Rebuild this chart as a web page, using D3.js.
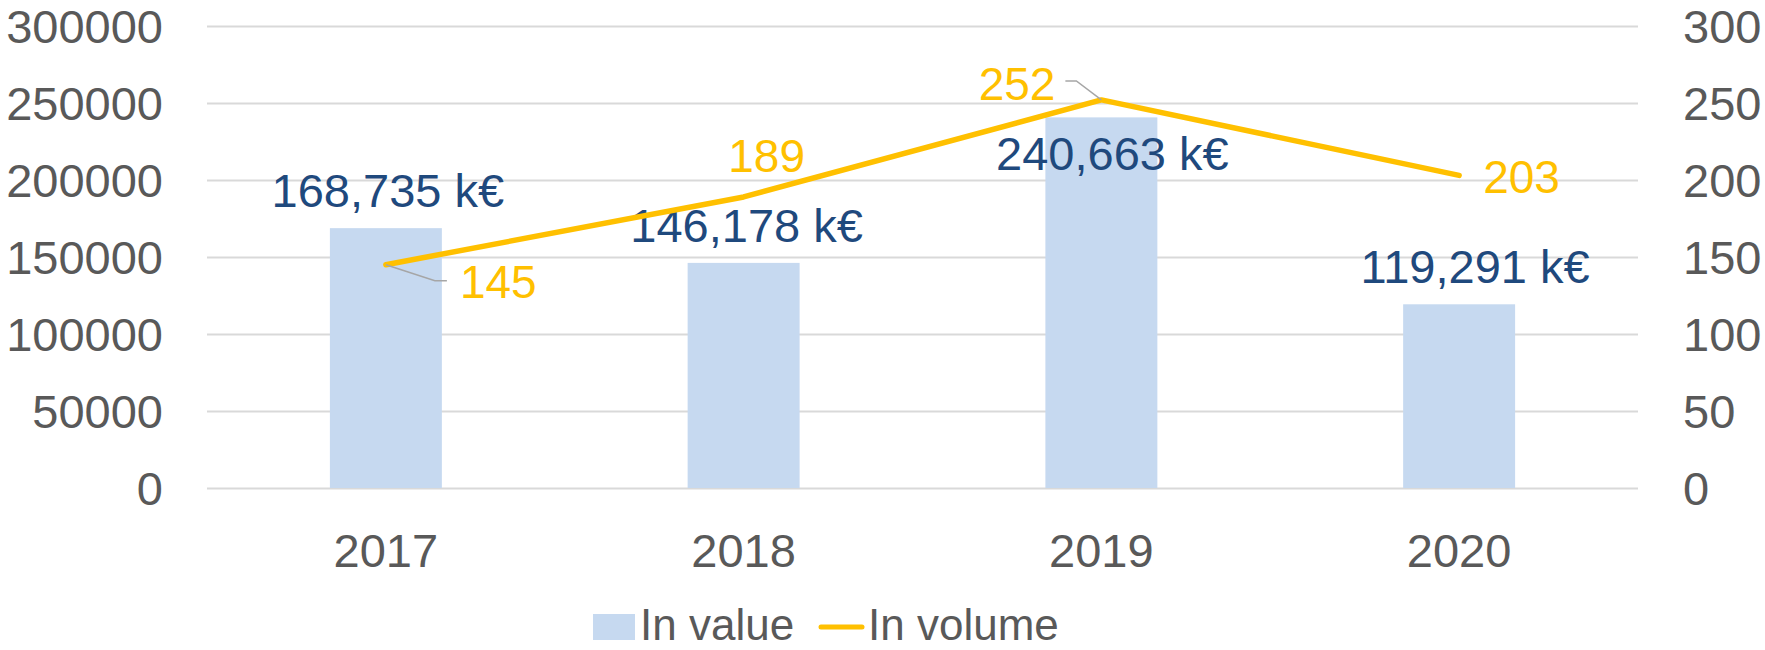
<!DOCTYPE html>
<html>
<head>
<meta charset="utf-8">
<script src="https://cdn.jsdelivr.net/npm/d3@7"></script>
<style>
  body { margin: 0; background: #fff; }
  text { font-family: "Liberation Sans", Arial, sans-serif; }
</style>
</head>
<body>
<div id="chart"></div>
<script>
// data
var years = ["2017", "2018", "2019", "2020"];
var inValue = [168735, 146178, 240663, 119291];
var inVolume = [145, 189, 252, 203];
var leftTicks = [0, 50000, 100000, 150000, 200000, 250000, 300000];
var rightTicks = [0, 50, 100, 150, 200, 250, 300];

// label placement tweaks (pixels, relative to default spot)
var valueLabelShift = [[2, 0], [3, 0], [11, 74], [16, 0]];
var volumeLabelShift = [[74, 33, "start"], [23, -25, "middle"], [-46, 0, "end"], [24, 18, "start"]];

var W = 1765, H = 650;
var plotLeft = 207, plotRight = 1638, plotTop = 26, plotBottom = 488;

var svg = d3.select("#chart")
  .append("svg")
    .attr("width", W)
    .attr("height", H);

var x = d3.scaleBand().domain(years).range([plotLeft, plotRight]).padding(0);
var yL = d3.scaleLinear().domain([0, 300000]).range([plotBottom, plotTop]);
var yR = d3.scaleLinear().domain([0, 300]).range([plotBottom, plotTop]);
var barW = x.bandwidth() * 0.313;

var axisGray = "#595959";
var gridGray = "#D9D9D9";
var barColor = "#C6D9F0";
var lineColor = "#FFC000";
var labelBlue = "#1F497D";

// left axis + gridlines
var gL = svg.append("g")
  .attr("transform", "translate(" + plotLeft + ",0)")
  .call(d3.axisLeft(yL).tickValues(leftTicks).tickFormat(d3.format("d"))
    .tickSizeInner(-(plotRight - plotLeft)).tickSizeOuter(0).tickPadding(44));
gL.select(".domain").remove();
gL.selectAll(".tick line").attr("stroke", gridGray).attr("stroke-width", 2);
gL.selectAll(".tick text").attr("fill", axisGray).style("font-size", "47px").attr("dy", "0.36em");

// right axis
var gR = svg.append("g")
  .attr("transform", "translate(" + plotRight + ",0)")
  .call(d3.axisRight(yR).tickValues(rightTicks).tickFormat(d3.format("d"))
    .tickSize(0).tickPadding(45));
gR.select(".domain").remove();
gR.selectAll(".tick text").attr("fill", axisGray).style("font-size", "47px").attr("dy", "0.36em");

// x axis
var gX = svg.append("g")
  .attr("transform", "translate(0," + plotBottom + ")")
  .call(d3.axisBottom(x).tickSize(0).tickPadding(46));
gX.select(".domain").remove();
gX.selectAll(".tick text").attr("fill", axisGray).style("font-size", "47px");

// bars
svg.selectAll(".bar")
  .data(years)
  .enter()
  .append("rect")
  .attr("class", "bar")
  .attr("x", function(d) { return x(d) + x.bandwidth() / 2 - barW / 2; })
  .attr("y", function(d, i) { return yL(inValue[i]); })
  .attr("width", barW)
  .attr("height", function(d, i) { return plotBottom - yL(inValue[i]); })
  .attr("fill", barColor);

// bar labels
svg.selectAll(".vlabel")
  .data(years)
  .enter()
  .append("text")
  .attr("class", "vlabel")
  .attr("x", function(d, i) { return x(d) + x.bandwidth() / 2 + valueLabelShift[i][0]; })
  .attr("y", function(d, i) { return yL(inValue[i]) - 21 + valueLabelShift[i][1]; })
  .attr("text-anchor", "middle")
  .attr("fill", labelBlue)
  .style("font-size", "47px")
  .text(function(d, i) { return d3.format(",")(inValue[i]) + " k€"; });

// volume line
function px(i) { return x(years[i]) + x.bandwidth() / 2; }

var line = d3.line()
  .x(function(d, i) { return px(i); })
  .y(function(d) { return yR(d); });

svg.append("path")
  .datum(inVolume)
  .attr("d", line)
  .attr("fill", "none")
  .attr("stroke", lineColor)
  .attr("stroke-width", 5.5)
  .attr("stroke-linecap", "round")
  .attr("stroke-linejoin", "round");

// leader lines for 145 and 252
svg.append("polyline")
  .attr("points", [[px(0), yR(inVolume[0])], [px(0) + 49, yR(inVolume[0]) + 16], [px(0) + 61, yR(inVolume[0]) + 16]].join(" "))
  .attr("fill", "none").attr("stroke", "#A6A6A6").attr("stroke-width", 1.5);
svg.append("polyline")
  .attr("points", [[px(2), yR(inVolume[2])], [px(2) - 25, yR(inVolume[2]) - 19], [px(2) - 36, yR(inVolume[2]) - 19]].join(" "))
  .attr("fill", "none").attr("stroke", "#A6A6A6").attr("stroke-width", 1.5);

// volume labels
svg.selectAll(".nlabel")
  .data(inVolume)
  .enter()
  .append("text")
  .attr("class", "nlabel")
  .attr("x", function(d, i) { return px(i) + volumeLabelShift[i][0]; })
  .attr("y", function(d, i) { return yR(d) + volumeLabelShift[i][1]; })
  .attr("text-anchor", function(d, i) { return volumeLabelShift[i][2]; })
  .attr("fill", lineColor)
  .style("font-size", "46px")
  .text(function(d) { return d; });

// legend
var legend = svg.append("g");
legend.append("rect")
  .attr("x", 593).attr("y", 614).attr("width", 42).attr("height", 26)
  .attr("fill", barColor);
legend.append("text")
  .attr("x", 640).attr("y", 640)
  .attr("fill", axisGray).style("font-size", "44px")
  .text("In value");
legend.append("line")
  .attr("x1", 821).attr("x2", 862).attr("y1", 627).attr("y2", 627)
  .attr("stroke", lineColor).attr("stroke-width", 5).attr("stroke-linecap", "round");
legend.append("text")
  .attr("x", 868).attr("y", 640)
  .attr("fill", axisGray).style("font-size", "44px")
  .text("In volume");
</script>
</body>
</html>
